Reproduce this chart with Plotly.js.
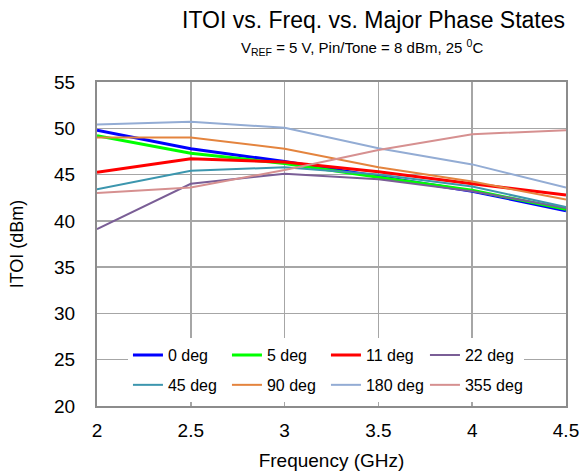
<!DOCTYPE html>
<html><head><meta charset="utf-8">
<script src="https://cdn.plot.ly/plotly-3.0.1.min.js"></script>
<style>html,body{margin:0;padding:0;background:#fff}#chart{width:582px;height:473px}</style>
</head><body><div id="chart"></div>
<script>
const freq = [2, 2.5, 3, 3.5, 4, 4.5];
const seriesNames = ['0 deg','5 deg','11 deg','22 deg','45 deg','90 deg','180 deg','355 deg'];
const deg0   = [49.8, 47.8, 46.4, 44.8, 43.2, 41.1];
const deg5   = [49.2, 47.3, 46.2, 44.7, 43.3, 41.25];
const deg11  = [45.25, 46.7, 46.36, 45.3, 44.0, 42.8];
const deg22  = [39.1, 44.0, 45.1, 44.5, 43.2, 41.4];
const deg45  = [43.4, 45.4, 45.8, 45.0, 43.7, 41.5];
const deg90  = [49.0, 49.0, 47.8, 45.8, 44.25, 42.3];
const deg180 = [50.4, 50.7, 50.05, 47.85, 46.1, 43.6];
const deg355 = [43.0, 43.6, 45.5, 47.65, 49.35, 49.8];
const seriesValues = [deg0, deg5, deg11, deg22, deg45, deg90, deg180, deg355];
const colors = ['#0000FF','#00FF00','#FF0000','#7A5E96','#3C96AE','#E4843E','#93ACD4','#D69090'];
const widths = [3,3,3,2,2,2,2,2];
const xTicks = [2, 2.5, 3, 3.5, 4, 4.5];
const yTicks = [20, 25, 30, 35, 40, 45, 50, 55];

const traces = seriesNames.map((n,i)=>({
  x: freq, y: seriesValues[i], name: n, type:'scatter', mode:'lines',
  legend: i < 4 ? 'legend' : 'legend2',
  line:{color:colors[i], width:widths[i]}
}));
const F = 'Arial, "Liberation Sans", sans-serif';
const legCommon = {orientation:'h', xanchor:'left', yanchor:'middle', bgcolor:'#fff',
  font:{size:16, family:F}, entrywidth:54, traceorder:'normal'};
const layout = {
  width:582, height:473,
  margin:{l:97, r:16, t:82, b:67},
  paper_bgcolor:'#fff', plot_bgcolor:'#fff',
  font:{family:F, color:'#000'},
  showlegend:true,
  legend:Object.assign({x:0.066, y:0.157}, legCommon),
  legend2:Object.assign({x:0.066, y:0.065}, legCommon),
  xaxis:{range:[2,4.5], tickvals:xTicks, ticktext:xTicks.map(String),
    showgrid:true, gridcolor:'#a6a6a6', gridwidth:1.5,
    showline:true, linecolor:'#8c8c8c', linewidth:2, mirror:true,
    ticks:'', tickfont:{size:19}, zeroline:false, ticklabelstandoff:6,
    title:{text:'Frequency (GHz)', font:{size:19}, standoff:14}},
  yaxis:{range:[20,55], tickvals:yTicks,
    showgrid:true, gridcolor:'#a6a6a6', gridwidth:1.5,
    showline:true, linecolor:'#8c8c8c', linewidth:2, mirror:true,
    ticks:'', tickfont:{size:19}, zeroline:false, ticklabelstandoff:16,
    title:{text:'ITOI (dBm)', font:{size:18}, standoff:26}},
  annotations:[
    {text:'ITOI vs. Freq. vs. Major Phase States', xref:'paper', yref:'paper', x:0.59, y:1, xanchor:'center', yanchor:'bottom', yshift:47, showarrow:false, font:{size:23, family:F}},
    {text:'V<sub>REF</sub> = 5 V, Pin/Tone = 8 dBm, 25 <sup>0</sup>C', xref:'paper', yref:'paper', x:0.565, y:1, xanchor:'center', yanchor:'bottom', yshift:22, showarrow:false, font:{size:15, family:F}}
  ]
};
Plotly.newPlot('chart', traces, layout, {displayModeBar:false, staticPlot:true});
</script></body></html>
